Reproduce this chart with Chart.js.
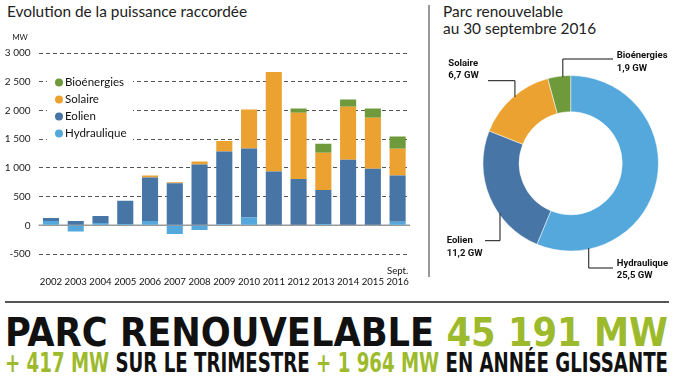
<!DOCTYPE html>
<html>
<head>
    <title>Parc renouvelable</title>
    <script src="https://cdn.jsdelivr.net/npm/chart.js"></script>
    <style>
        body { margin: 0; background: #fff; width: 674px; height: 390px; overflow: hidden; position: relative; font-family: Lato, "Open Sans", sans-serif; color: #222; }
        .title { position: absolute; font-size: 15.4px; line-height: 17px; color: #222; white-space: nowrap; }
        #barBox { position: absolute; left: 0; top: 0; width: 425px; height: 290px; }
        #pieBox { position: absolute; left: 430px; top: 40px; width: 244px; height: 250px; }
        .vline { position: absolute; left: 428px; top: 5px; width: 1.5px; height: 272px; background: #999; }
        .hline { position: absolute; left: 5px; top: 301px; width: 664px; height: 1.5px; background: #555; }
        .big { position: absolute; left: 5px; white-space: nowrap; font-family: "DejaVu Sans Condensed", "Liberation Sans", sans-serif; font-weight: 700; color: #111; transform-origin: left top; }
        .big span { color: #9dba2c; }
        #big1 { top: 313px; font-size: 39px; line-height: 39px; }
        #big2 { top: 349px; font-size: 27px; line-height: 27px; }
    </style>
</head>
<body>
    <div class="title" style="left:7px; top:3px;">Evolution de la puissance raccordée</div>
    <div class="title" style="left:443px; top:3px;">Parc renouvelable<br>au 30 septembre 2016</div>
    <div class="vline"></div>
    <div id="barBox"><canvas id="barChart"></canvas></div>
    <div id="pieBox"><canvas id="pieChart"></canvas></div>
    <div class="hline"></div>
    <div class="big" id="big1">PARC RENOUVELABLE <span>45 191 MW</span></div>
    <div class="big" id="big2"><span>+ 417 MW</span> SUR LE TRIMESTRE <span>+ 1 964 MW</span> EN ANNÉE GLISSANTE</div>
    <script>
        // puissance raccordée par an (MW)
        const years = ['2002', '2003', '2004', '2005', '2006', '2007', '2008', '2009', '2010', '2011', '2012', '2013', '2014', '2015', '2016'];
        const hydraulique = [76, -110, 40, 23, 76, -150, -82, 23, 135, 0, 0, 23, 0, 0, 63];
        const eolien = [53, 76, 123, 404, 754, 731, 1058, 1264, 1204, 936, 808, 593, 1140, 983, 803];
        const solaire = [0, 0, 0, 0, 35, 18, 53, 180, 678, 1734, 1152, 646, 925, 890, 466];
        const bioenergies = [0, 0, 0, 0, 0, 0, 0, 0, 0, 0, 75, 157, 127, 162, 214];
        const yTicks = [-500, 0, 500, 1000, 1500, 2000, 2500, 3000];

        // parc au 30 septembre 2016 (GW)
        const parcLabels = ['Hydraulique', 'Eolien', 'Solaire', 'Bioénergies'];
        const parcGW = [25.5, 11.2, 6.7, 1.9];

        const colors = {
            'Hydraulique': '#54a8dc',
            'Eolien': '#4775a6',
            'Solaire': '#eba230',
            'Bioénergies': '#6e9a3b'
        };

        const fmt = v => String(v).replace(/\B(?=(\d{3})+(?!\d))/g, ' ');

        const zeroLine = {
            id: 'zeroLine',
            beforeDatasetsDraw(chart) {
                const { ctx, chartArea, scales } = chart;
                const y = scales.y.getPixelForValue(0);
                ctx.save();
                ctx.strokeStyle = '#999';
                ctx.lineWidth = 1.5;
                ctx.beginPath();
                ctx.moveTo(chartArea.left, y);
                ctx.lineTo(chartArea.right, y);
                ctx.stroke();
                ctx.restore();
            }
        };

        const barLegend = {
            id: 'barLegend',
            afterDraw(chart) {
                const ctx = chart.ctx;
                ctx.save();
                ctx.fillStyle = '#fff';
                ctx.fillRect(47, 72, 86, 70);
                const items = chart.data.datasets.slice().reverse();
                items.forEach((ds, i) => {
                    const y = 82.5 + i * 17;
                    ctx.fillStyle = ds.backgroundColor;
                    ctx.beginPath();
                    ctx.arc(59, y, 4, 0, Math.PI * 2);
                    ctx.fill();
                    ctx.fillStyle = '#111';
                    ctx.font = '11.5px Lato, sans-serif';
                    ctx.textBaseline = 'middle';
                    ctx.fillText(ds.label, 65, y);
                });
                ctx.fillStyle = '#222';
                ctx.font = '8px Lato, sans-serif';
                ctx.textAlign = 'center';
                ctx.fillText('MW', 20, 37);
                ctx.restore();
            }
        };

        new Chart(document.getElementById('barChart'), {
            type: 'bar',
            data: {
                labels: years.map((y, i) => i === years.length - 1 ? ['Sept.', y] : ['', y]),
                datasets: [
                    { label: 'Hydraulique', data: hydraulique, backgroundColor: colors['Hydraulique'] },
                    { label: 'Eolien', data: eolien, backgroundColor: colors['Eolien'] },
                    { label: 'Solaire', data: solaire, backgroundColor: colors['Solaire'] },
                    { label: 'Bioénergies', data: bioenergies, backgroundColor: colors['Bioénergies'] }
                ]
            },
            options: {
                responsive: true,
                maintainAspectRatio: false,
                animation: false,
                layout: { padding: { top: 53, right: 15, left: 0, bottom: 0 } },
                datasets: { bar: { barPercentage: 0.65, categoryPercentage: 1 } },
                plugins: { legend: { display: false }, tooltip: { enabled: false } },
                scales: {
                    x: {
                        stacked: true,
                        grid: { display: false },
                        border: { display: false },
                        ticks: { color: '#111', font: { size: 9.6, family: 'Lato' }, maxRotation: 0, autoSkip: false, padding: 3 },
                        afterFit: s => { s.height = 36; }
                    },
                    y: {
                        stacked: true,
                        min: -500,
                        max: 3000,
                        afterBuildTicks: s => { s.ticks = yTicks.map(v => ({ value: v })); },
                        grid: {
                            drawTicks: false,
                            lineWidth: 1,
                            color: c => c.tick && c.tick.value === 0 ? 'rgba(0,0,0,0)' : '#555'
                        },
                        border: { display: false, dash: [4, 3] },
                        ticks: { color: '#222', font: { size: 10, family: 'Lato' }, padding: 8, callback: v => fmt(v) },
                        afterFit: s => { s.width = 38.6; }
                    }
                }
            },
            plugins: [zeroLine, barLegend]
        });

        // leader lines: anchor angle on the ring, elbow and text offsets from centre
        const callouts = [
            { angle: 168, elbowY: 104.7, endX: 42.3, textX: 46, textY: 100 },
            { angle: 234.6, elbowY: 77.4, endX: -85.7, textX: -124, textY: 77.4 },
            { angle: 320, elbowY: -82.6, endX: -82.7, textX: -122.4, textY: -100 },
            { angle: 354.8, elbowY: -104.3, endX: 42.3, textX: 46, textY: -107.3 }
        ];

        const pieLabels = {
            id: 'pieLabels',
            afterDraw(chart) {
                const ctx = chart.ctx;
                const arc = chart.getDatasetMeta(0).data[0];
                const cx = arc.x, cy = arc.y, r = arc.outerRadius;
                ctx.save();
                ctx.strokeStyle = '#111';
                ctx.lineWidth = 1;
                ctx.fillStyle = '#111';
                ctx.font = '700 9.5px Roboto, "DejaVu Sans", sans-serif';
                ctx.textBaseline = 'middle';
                chart.data.labels.forEach((lab, i) => {
                    const c = callouts[i];
                    const a = c.angle * Math.PI / 180;
                    const ax = cx + (r - 1) * Math.sin(a);
                    const ay = cy - (r - 1) * Math.cos(a);
                    ctx.beginPath();
                    ctx.moveTo(ax, ay);
                    ctx.lineTo(ax, cy + c.elbowY);
                    ctx.lineTo(cx + c.endX, cy + c.elbowY);
                    ctx.stroke();
                    const v = chart.data.datasets[0].data[i];
                    ctx.fillText(lab, cx + c.textX, cy + c.textY);
                    ctx.fillText(String(v).replace('.', ',') + ' GW', cx + c.textX, cy + c.textY + 12.7);
                });
                ctx.restore();
            }
        };

        new Chart(document.getElementById('pieChart'), {
            type: 'doughnut',
            data: {
                labels: parcLabels,
                datasets: [{
                    data: parcGW,
                    backgroundColor: parcLabels.map(l => colors[l]),
                    borderColor: '#fff',
                    borderWidth: 0.5
                }]
            },
            options: {
                responsive: true,
                maintainAspectRatio: false,
                animation: false,
                cutout: '58.7%',
                layout: { padding: { left: 52.7, right: 15.3, top: 35.3, bottom: 38.7 } },
                plugins: { legend: { display: false }, tooltip: { enabled: false } }
            },
            plugins: [pieLabels]
        });

        // fit the banner lines to the page width
        ['big1', 'big2'].forEach(id => {
            const el = document.getElementById(id);
            const w = el.getBoundingClientRect().width;
            el.style.transform = 'scaleX(' + (663 / w) + ')';
        });
    </script>
</body>
</html>
